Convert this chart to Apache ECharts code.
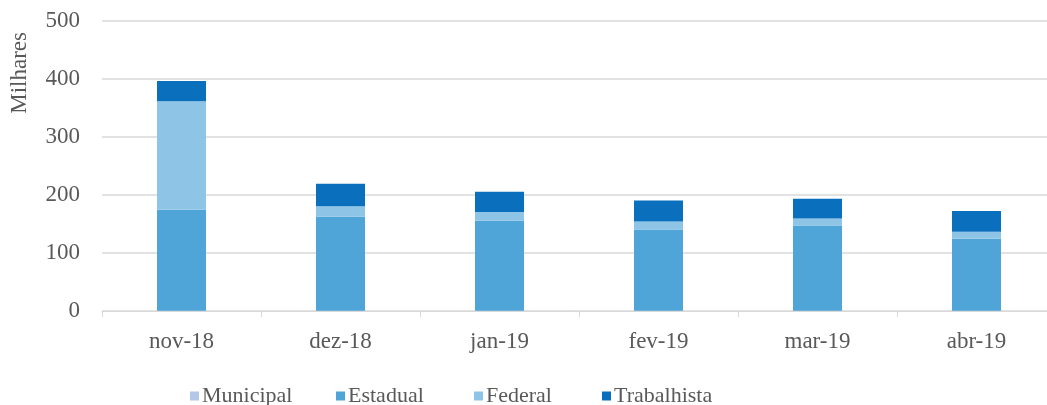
<!DOCTYPE html>
<html>
<head>
<meta charset="utf-8">
<script src="https://cdn.jsdelivr.net/npm/echarts@6/dist/echarts.min.js"></script>
<style>
    html, body { margin: 0; padding: 0; background: #ffffff; }
    #chart { width: 1047px; height: 405px; }
</style>
</head>
<body>
<div id="chart"></div>
<script>
// categorias (meses) e valores em milhares
var meses = ['nov-18', 'dez-18', 'jan-19', 'fev-19', 'mar-19', 'abr-19'];
var municipal = [0.5, 0.5, 0.5, 0.5, 0.5, 0.5];
var estadual = [174, 162, 155, 140, 147, 124];
var federal = [187, 18, 15, 14, 12, 12];
var trabalhista = [35, 39, 35, 36, 34, 36];
var yTicks = [0, 100, 200, 300, 400, 500];
var nomes = ['Municipal', 'Estadual', 'Federal', 'Trabalhista'];

var FONT = '"Liberation Serif", "DejaVu Serif", serif';
var TXT = '#595959';

var chart = echarts.init(document.getElementById('chart'));

function serie(nome, dados, cor) {
    return {
        name: nome,
        type: 'bar',
        stack: 'total',
        data: dados,
        barWidth: 49,
        itemStyle: { color: cor },
        emphasis: { disabled: true }
    };
}

// uma legenda por item, para respeitar o espaçamento do original
var legendLeft = [185, 331, 469, 597];
var legendas = nomes.map(function(n, i) {
    return {
        data: [n],
        top: 380,
        left: legendLeft[i],
        itemWidth: 9,
        itemHeight: 9,
        icon: 'rect',
        textStyle: { color: TXT, fontSize: 22, fontFamily: FONT, padding: [0, 0, 0, -2] }
    };
});

var option = {
    backgroundColor: '#ffffff',
    animation: false,
    textStyle: { fontFamily: FONT },
    grid: {
        left: 102,
        width: 954,
        top: 21,
        height: 290,
        outerBoundsMode: 'none'
    },
    xAxis: {
        type: 'category',
        data: meses,
        axisLine: { lineStyle: { color: '#d9d9d9', width: 1 } },
        axisTick: { show: true, length: 6, lineStyle: { color: '#d9d9d9' } },
        axisLabel: { color: TXT, fontSize: 23, fontFamily: FONT, margin: 19 }
    },
    yAxis: {
        type: 'value',
        min: yTicks[0],
        max: yTicks[yTicks.length - 1],
        interval: 100,
        axisLine: { show: false },
        axisTick: { show: false },
        axisLabel: { color: TXT, fontSize: 23, fontFamily: FONT, margin: 22 },
        splitLine: { lineStyle: { color: '#d9d9d9', width: 1.5 } }
    },
    graphic: [{
        type: 'text',
        left: 8,
        top: 32,
        rotation: Math.PI / 2,
        style: {
            text: 'Milhares',
            font: '23px ' + FONT,
            fill: TXT
        }
    }],
    legend: legendas,
    series: [
        serie(nomes[0], municipal, '#b4c7e7'),
        serie(nomes[1], estadual, '#4fa5d8'),
        serie(nomes[2], federal, '#8ec4e6'),
        serie(nomes[3], trabalhista, '#0a70be')
    ]
};

chart.setOption(option);
</script>
</body>
</html>
